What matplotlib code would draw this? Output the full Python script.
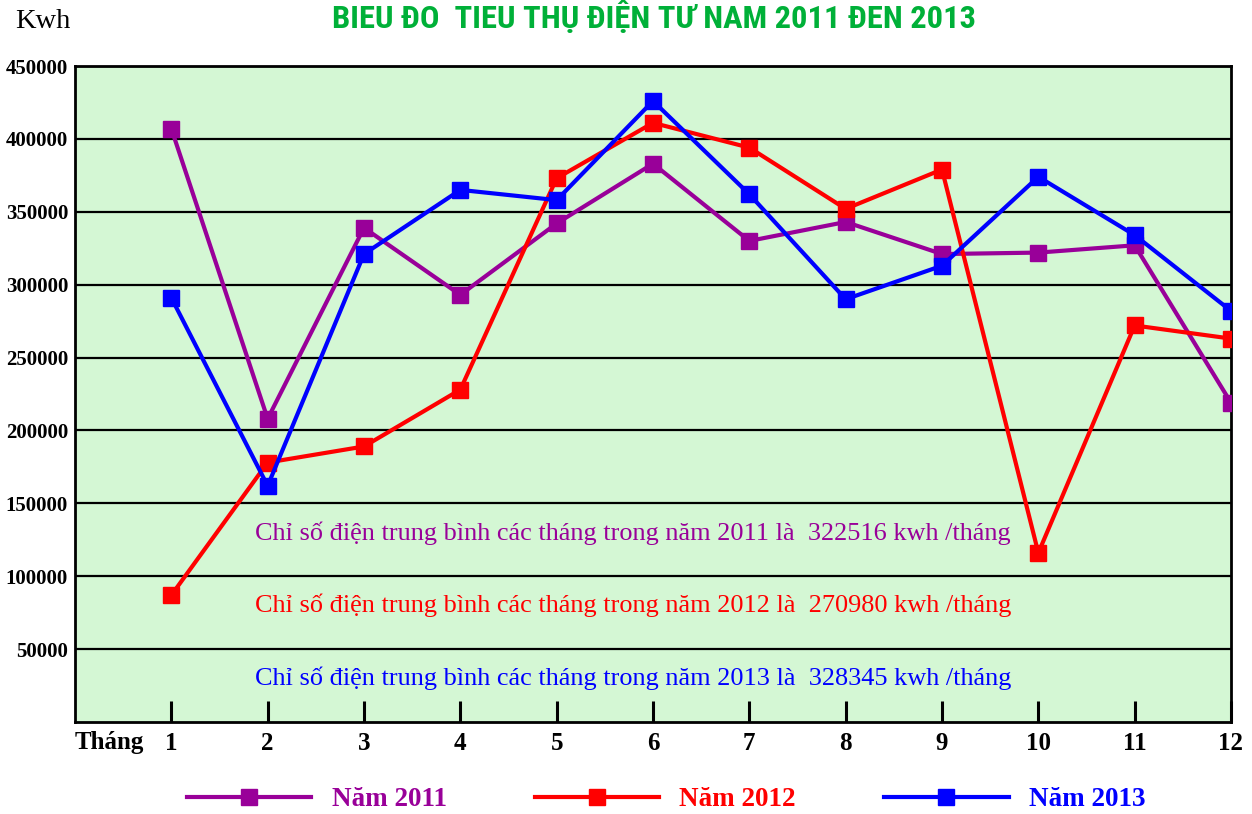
import matplotlib
matplotlib.use("Agg")
import matplotlib.pyplot as plt
from matplotlib.lines import Line2D
from matplotlib import font_manager

months = list(range(1, 13))
y2011 = [407000, 208000, 339000, 293000, 342000, 383000, 330000, 343000, 321000, 322000, 327000, 219000]
y2012 = [87000, 178000, 189000, 228000, 373000, 411000, 394000, 352000, 379000, 116000, 272000, 263000]
y2013 = [291000, 162000, 321000, 365000, 358000, 426000, 362000, 290000, 313000, 374000, 334000, 282000]
series_labels = ["Năm 2011", "Năm 2012", "Năm 2013"]
averages = [322516, 270980, 328345]
years = [2011, 2012, 2013]
yticks = [50000, 100000, 150000, 200000, 250000, 300000, 350000, 400000, 450000]

colors = ["#990099", "#FF0000", "#0000FF"]
serif = ["Liberation Serif", "DejaVu Serif"]

names = {f.name for f in font_manager.fontManager.ttflist}
title_fam = [n for n in ["Roboto Condensed", "DejaVu Sans Condensed", "Roboto", "DejaVu Sans"] if n in names]
title_size = 23.4 if title_fam[0] in ("Roboto Condensed", "DejaVu Sans Condensed") else 19

fig = plt.figure(figsize=(12.52, 8.14), dpi=100)
ax = fig.add_axes([75/1252, 1-722/814, (1231-75)/1252, (722-66)/814])
ax.set_facecolor("#D4F7D4")

for v in yticks:
    ax.axhline(v, color="black", lw=1.6, zorder=1)

for ys, c, lab in zip([y2011, y2012, y2013], colors, series_labels):
    ax.plot(months, ys, color=c, lw=3, marker="s", markersize=12,
            markeredgecolor=c, label=lab, zorder=3)

ax.set_xlim(0, 12)
ax.set_ylim(0, 450000)
ax.set_xticks(months)
ax.set_xticklabels([str(m) for m in months], fontfamily=serif,
                   fontweight="bold", fontsize=18)
ax.set_yticks(yticks)
ax.set_yticklabels([str(v) for v in yticks], fontfamily=serif,
                   fontweight="bold", fontsize=15)
ax.tick_params(axis="x", direction="in", length=15, width=2.2, pad=7)
ax.tick_params(axis="y", length=0, pad=5)
for s in ax.spines.values():
    s.set_linewidth(2)

for yr, avg, c, yv in zip(years, averages, colors, [129650, 80260, 30180]):
    ax.text(1.87, yv, f"Chỉ số điện trung bình các tháng trong năm {yr} là  {avg} kwh /tháng",
            color=c, fontfamily=serif, fontsize=18.9, va="center", ha="left", zorder=4)

fig.text(75/1252, 1-743/814, "Tháng", fontfamily=serif, fontweight="bold",
         fontsize=18, ha="left", va="center")
fig.text(15/1252, 1-22/814, "Kwh", fontfamily=serif, fontsize=20.5,
         ha="left", va="center")
fig.text(654/1252, 1-17/814, "BIEU ĐO  TIEU THỤ ĐIỆN TƯ NAM 2011 ĐEN 2013",
         color="#00B038", fontfamily=title_fam, fontstretch="condensed",
         fontweight="bold", fontsize=title_size, ha="center", va="center")

handles = [Line2D([], [], color=c, lw=3, marker="s", markersize=12) for c in colors]
leg = fig.legend(handles, series_labels, loc="center", bbox_to_anchor=(666/1252, 1-800/814),
                 ncol=3, frameon=False, handlelength=4.6, handletextpad=0.75,
                 columnspacing=3.25, labelcolor=colors,
                 prop={"family": serif, "weight": "bold", "size": 19.5})

fig.savefig("out.png", dpi=100)
